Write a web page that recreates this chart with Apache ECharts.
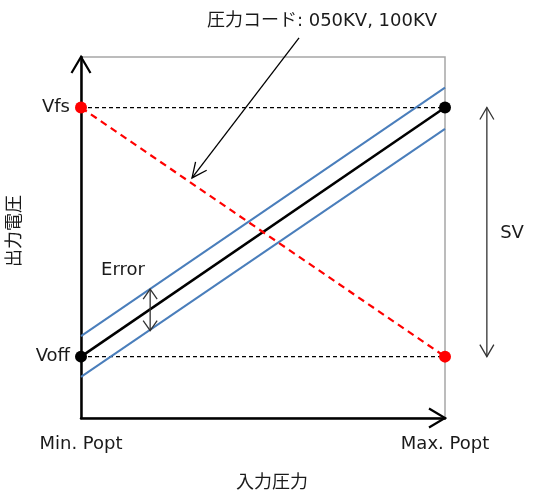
<!DOCTYPE html>
<html><head><meta charset="utf-8">
<script src="https://cdn.jsdelivr.net/npm/echarts@6/dist/echarts.min.js"></script>
<style>html,body{margin:0;padding:0;background:#fff}#c{width:535px;height:495px}</style>
</head><body><div id="c"></div>
<script>
// ---- data ----
const pressureTicks = [0, 1];                  // Min. Popt, Max. Popt
const pressureLabels = ['Min. Popt', 'Max. Popt'];
const voltTicks = [17, 86];                    // Voff, Vfs
const voltLabels = ['Voff', 'Vfs'];
const idealOut = [17, 86];                     // black characteristic
const upperOut = [22.7, 91.5];                 // blue upper error limit
const lowerOut = [11.4, 80.1];                 // blue lower error limit
const reverseOut = [86, 17];                   // red dashed (reverse)
const refLineEnd = 1.19;                       // dotted reference lines extent
const svArrow = [[1.115, 17, 1.115, 86]];
const errorArrow = [[0.19, 24.2, 0.19, 35.7]];
const noteArrow = [[0.599, 105.3, 0.305, 66.5]];
const axisArrows = [[0, 0, 1, 0], [0, 0, 0, 100]];

const FONT = '"DejaVu Sans", "Noto Sans CJK JP", sans-serif';
const TXT = '#1a1a1a';

function pairs(xs, ys) { return xs.map((x, i) => [x, ys[i]]); }

function chevron(tip, from, len, half) {
  const dx = tip[0] - from[0], dy = tip[1] - from[1];
  const L = Math.hypot(dx, dy) || 1;
  const ux = dx / L, uy = dy / L;
  const bx = tip[0] - ux * len, by = tip[1] - uy * len;
  const nx = -uy, ny = ux;
  return [[bx + nx * half, by + ny * half], tip, [bx - nx * half, by - ny * half]];
}

function arrowSeries(data, opt) {
  return {
    type: 'custom', data: data, clip: false, silent: true, z: opt.z || 5,
    dimensions: ['x1', 'y1', 'x2', 'y2'],
    encode: { x: [0, 2], y: [1, 3] },
    renderItem: function (params, api) {
      const p1 = api.coord([api.value(0), api.value(1)]);
      const p2 = api.coord([api.value(2), api.value(3)]);
      const style = { stroke: opt.color, lineWidth: opt.width, fill: null };
      const children = [];
      if (opt.line !== false) children.push({ type: 'line', shape: { x1: p1[0], y1: p1[1], x2: p2[0], y2: p2[1] }, style: style });
      children.push({ type: 'polyline', shape: { points: chevron(p2, p1, opt.len, opt.half) }, style: style });
      if (opt.both) children.push({ type: 'polyline', shape: { points: chevron(p1, p2, opt.len, opt.half) }, style: style });
      return { type: 'group', children: children };
    }
  };
}

const chart = echarts.init(document.getElementById('c'));
chart.setOption({
  animation: false,
  grid: { left: 81, right: 90, top: 57, bottom: 77, show: true, borderColor: '#a6a6a6', borderWidth: 1.5, backgroundColor: 'transparent' },
  xAxis: {
    type: 'value', min: 0, max: 1,
    axisLine: { show: true, onZero: false, lineStyle: { color: '#000', width: 2.5 } },
    axisTick: { show: false }, splitLine: { show: false },
    axisLabel: {
      customValues: pressureTicks, margin: 17, fontSize: 18, fontFamily: FONT, color: TXT,
      formatter: v => pressureLabels[pressureTicks.indexOf(v)] || ''
    }
  },
  yAxis: {
    type: 'value', min: 0, max: 100,
    axisLine: { show: true, onZero: false, lineStyle: { color: '#000', width: 2.5 } },
    axisTick: { show: false }, splitLine: { show: false },
    axisLabel: {
      customValues: voltTicks, margin: 11, fontSize: 18, fontFamily: FONT, color: TXT,
      padding: [7, 0, 0, 0],
      formatter: v => voltLabels[voltTicks.indexOf(v)] || ''
    }
  },
  graphic: [
    { type: 'text', x: 322, y: 21, style: { text: '圧力コード: 050KV, 100KV', font: '18px ' + FONT, fill: TXT, align: 'center', verticalAlign: 'middle' } },
    { type: 'text', x: 512, y: 233, style: { text: 'SV', font: '18px ' + FONT, fill: TXT, align: 'center', verticalAlign: 'middle' } },
    { type: 'text', x: 123, y: 270, style: { text: 'Error', font: '18px ' + FONT, fill: TXT, align: 'center', verticalAlign: 'middle' } },
    { type: 'text', x: 272, y: 483, style: { text: '入力圧力', font: '18px ' + FONT, fill: TXT, align: 'center', verticalAlign: 'middle' } },
    { type: 'text', x: 15, y: 231, rotation: Math.PI / 2, style: { text: '出力電圧', font: '18px ' + FONT, fill: TXT, align: 'center', verticalAlign: 'middle' } }
  ],
  series: [
    { type: 'line', data: pairs([0, refLineEnd], [voltTicks[1], voltTicks[1]]), clip: false, symbol: 'none', lineStyle: { color: '#000', width: 1.3, type: [4, 3] }, z: 2 },
    { type: 'line', data: pairs([0, refLineEnd], [voltTicks[0], voltTicks[0]]), clip: false, symbol: 'none', lineStyle: { color: '#000', width: 1.3, type: [4, 3] }, z: 2 },
    { type: 'line', data: pairs(pressureTicks, upperOut), symbol: 'none', lineStyle: { color: '#4a7ebb', width: 2 }, z: 3 },
    { type: 'line', data: pairs(pressureTicks, lowerOut), symbol: 'none', lineStyle: { color: '#4a7ebb', width: 2 }, z: 3 },
    { type: 'line', data: pairs(pressureTicks, idealOut), symbol: 'none', lineStyle: { color: '#000', width: 2.5 }, z: 4 },
    { type: 'line', data: pairs(pressureTicks, reverseOut), symbol: 'none', lineStyle: { color: '#ff0000', width: 2.2, type: [7, 5] }, z: 4 },
    arrowSeries(axisArrows, { color: '#000', width: 2.2, len: 16, half: 9.5, line: false, z: 6 }),
    arrowSeries(svArrow, { color: '#333', width: 1.3, len: 12, half: 7, both: true }),
    arrowSeries(errorArrow, { color: '#333', width: 1.3, len: 10, half: 7, both: true }),
    arrowSeries(noteArrow, { color: '#000', width: 1.3, len: 15, half: 7 }),
    { type: 'scatter', data: pairs(pressureTicks, idealOut), clip: false, symbolSize: 12, itemStyle: { color: '#000', opacity: 1 }, z: 8 },
    { type: 'scatter', data: pairs(pressureTicks, reverseOut), clip: false, symbolSize: 12, itemStyle: { color: '#ff0000', opacity: 1 }, z: 8 }
  ]
});
</script></body></html>
